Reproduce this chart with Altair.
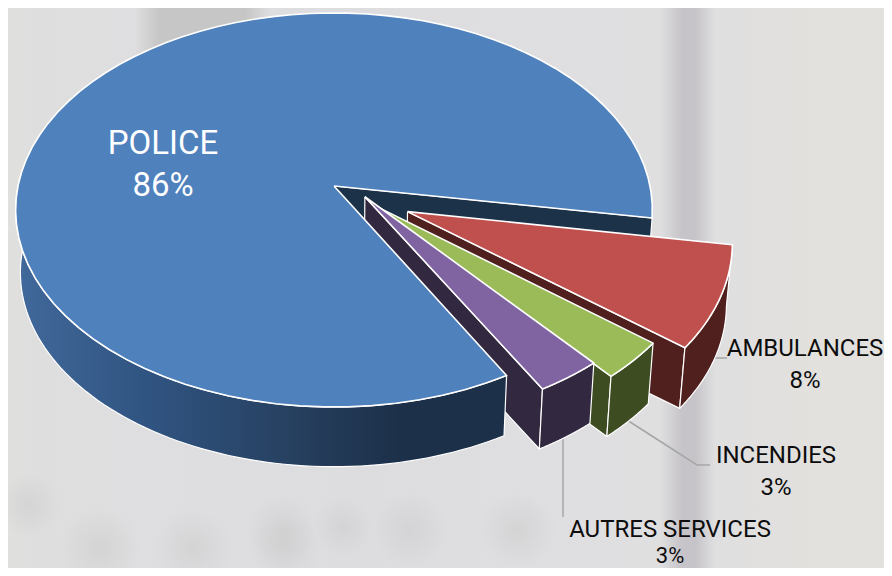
import math
import altair as alt

# ---- data
categories = ["POLICE", "AMBULANCES", "INCENDIES", "AUTRES SERVICES"]
shares = [85.7, 8.2, 3.1, 3.0]
percent_labels = ["86%", "8%", "3%", "3%"]

# ---- pie geometry (perspective of a tilted disc)
CX, CY = 334, 186
H, K, C = 316.0, 194.1, 0.1218
BOTTOM_SCALE, BOTTOM_DY = 0.985, 63
START_DEG = -9.3
offsets = {"POLICE": (0, 0), "AMBULANCES": (0.229, -0.13),
           "INCENDIES": (0.14, -0.11), "AUTRES SERVICES": (0.097, -0.055)}
top_colors = ["#4f81bd", "#c0504d", "#9bbb59", "#8064a2"]
side_colors = ["#1c3249", "#4f201d", "#3e4c22", "#322840"]

xs = alt.Scale(domain=[8, 884], range=[0, 876], nice=False, zero=False)
ys = alt.Scale(domain=[568, 8], nice=False, zero=False)


def project(u, v, low=False):
    w = 1 + C * v
    px, py = H * u / w, K * v / w
    if low:
        return CX + BOTTOM_SCALE * px, CY + BOTTOM_DY - BOTTOM_SCALE * py
    return CX + px, CY - py


def disc(a, off):
    r = math.radians(a)
    return math.cos(r) + off[0], math.sin(r) + off[1]


def arc(a0, a1, off, low=False, n=80):
    return [project(*disc(a0 + (a1 - a0) * i / n, off), low) for i in range(n + 1)]


def poly(points, fill, stroke="#ffffff", width=1.2):
    closed = list(points) + [points[0]]
    vals = [{"x": p[0], "y": p[1], "i": i} for i, p in enumerate(closed)]
    return alt.Chart(alt.Data(values=vals)).mark_line(
        fill=fill, stroke=stroke, strokeWidth=width, strokeJoin="round", interpolate="linear", clip=False
    ).encode(x=alt.X("x:Q", scale=xs, axis=None), y=alt.Y("y:Q", scale=ys, axis=None), order="i:Q")


def path(points, color="#a6a6a6", width=1.5):
    vals = [{"x": p[0], "y": p[1], "i": i} for i, p in enumerate(points)]
    return alt.Chart(alt.Data(values=vals)).mark_line(color=color, strokeWidth=width).encode(
        x=alt.X("x:Q", scale=xs, axis=None), y=alt.Y("y:Q", scale=ys, axis=None), order="i:Q")


layers = []


# ---- blurred backdrop
def band(x0, x1, stops, y0=8, y1=568):
    g = alt.Gradient(gradient="linear", x1=0, x2=1, y1=0, y2=0,
                     stops=[alt.GradientStop(offset=o, color=c) for o, c in stops])
    return alt.Chart(alt.Data(values=[{"a": x0, "b": x1, "c": y0, "d": y1}])).mark_rect(fill=g).encode(
        x=alt.X("a:Q", scale=xs, axis=None), x2="b:Q",
        y=alt.Y("c:Q", scale=ys, axis=None), y2="d:Q")


layers.append(band(8, 884, [(0, "#e0e0de"), (0.03, "#dfdedf"), (0.4, "#dddde0"), (0.8, "#e0dfe0"), (0.93, "#e2e1dd"), (1, "#e2e1dd")]))
layers.append(band(135, 270, [(0, "rgba(198,198,198,0)"), (0.18, "rgba(198,198,198,1)"), (0.82, "rgba(198,198,198,1)"), (1, "rgba(198,198,198,0)")], y1=120))
layers.append(band(660, 715, [(0, "rgba(198,196,200,0)"), (0.4, "rgba(198,196,200,1)"), (0.65, "rgba(198,196,200,1)"), (1, "rgba(198,196,200,0)")]))
for bx, by, r in [(28, 505, 32), (282, 530, 35), (343, 527, 30), (100, 548, 40),
                  (193, 548, 40), (285, 548, 35), (410, 530, 38), (518, 530, 38)]:
    g = alt.Gradient(gradient="radial", x1=0.5, y1=0.5, x2=0.5, y2=0.5, r1=0, r2=0.5,
                     stops=[alt.GradientStop(offset=0, color="rgba(200,200,200,0.45)"),
                            alt.GradientStop(offset=1, color="rgba(200,200,200,0)")])
    layers.append(alt.Chart(alt.Data(values=[{"a": bx - r, "b": bx + r, "c": by - r, "d": by + r}])).mark_rect(fill=g).encode(
        x=alt.X("a:Q", scale=xs, axis=None), x2="b:Q", y=alt.Y("c:Q", scale=ys, axis=None), y2="d:Q"))

# ---- leader lines
layers.append(path([(563, 438), (563, 517)]))
layers.append(path([(627, 420), (697, 465), (710, 465)]))
layers.append(path([(710, 358), (727, 358)]))

# ---- slice angles
angles = {"POLICE": (START_DEG, START_DEG + shares[0] * 3.6)}
start = START_DEG
for name, share in zip(categories[1:], shares[1:]):
    angles[name] = (start, start - share * 3.6)
    start = angles[name][1]


def slice_parts(idx):
    name = categories[idx]
    off = offsets[name]
    a0, a1 = angles[name]
    a_top, a_low = project(*off), project(*off, True)
    e1, e1l = project(*disc(a1, off)), project(*disc(a1, off), True)
    wall = poly([a_top, e1, e1l, a_low], side_colors[idx])
    outer = poly(arc(a0, a1, off) + arc(a1, a0, off, True), side_colors[idx])
    top = poly([a_top] + arc(a0, a1, off), top_colors[idx], width=1.6)
    return wall, outer, top


# back wall of the police cut
p0, p1 = angles["POLICE"]
off = offsets["POLICE"]
a_top, a_low = project(*off), project(*off, True)
e0, e0l = project(*disc(p0, off)), project(*disc(p0, off), True)
layers.append(poly([a_top, e0, e0l, a_low], side_colors[0]))

# exploded slices behind the police front
layers.extend(slice_parts(1))
layers.extend(slice_parts(2))
w3, o3, t3 = slice_parts(3)
layers.append(w3)

# police body
side_grad = alt.Gradient(gradient="linear", x1=0, x2=1, y1=0, y2=0, stops=[
    alt.GradientStop(offset=0, color="#41699b"), alt.GradientStop(offset=0.27, color="#305481"),
    alt.GradientStop(offset=0.58, color="#263f5e"), alt.GradientStop(offset=0.78, color="#1c3049"),
    alt.GradientStop(offset=1, color="#1c3049")])
layers.append(poly(arc(175, p1, off) + arc(p1, 175, off, True), side_grad))
layers.append(poly([a_top] + arc(p0, p1, off), top_colors[0], width=1.6))

# last slice on top
layers.extend([o3, t3])

# ---- labels
FONT = "Roboto"
label_rows = [
    {"t": categories[0], "x": 163, "y": 144, "s": 33, "c": "#ffffff"},
    {"t": percent_labels[0], "x": 163, "y": 186, "s": 33, "c": "#ffffff"},
    {"t": categories[1], "x": 805, "y": 349, "s": 24, "c": "#0d0d0d"},
    {"t": percent_labels[1], "x": 805, "y": 381, "s": 24, "c": "#0d0d0d"},
    {"t": categories[2], "x": 776, "y": 456, "s": 24, "c": "#0d0d0d"},
    {"t": percent_labels[2], "x": 776, "y": 488, "s": 24, "c": "#0d0d0d"},
    {"t": categories[3], "x": 670, "y": 530, "s": 24, "c": "#0d0d0d"},
    {"t": percent_labels[3], "x": 670, "y": 556, "s": 22, "c": "#0d0d0d"},
]
for r in label_rows:
    layers.append(alt.Chart(alt.Data(values=[r])).mark_text(
        font=FONT, fontSize=r["s"], color=r["c"], align="center", baseline="middle"
    ).encode(x=alt.X("x:Q", scale=xs, axis=None), y=alt.Y("y:Q", scale=ys, axis=None), text="t:N"))

chart = alt.layer(*layers).properties(width=876, height=560, padding=0, autosize="none").configure_view(stroke=None)
chart = chart.configure(background="#dddddf")
chart.save("out.html", embed_options={"renderer": "svg", "actions": False})
